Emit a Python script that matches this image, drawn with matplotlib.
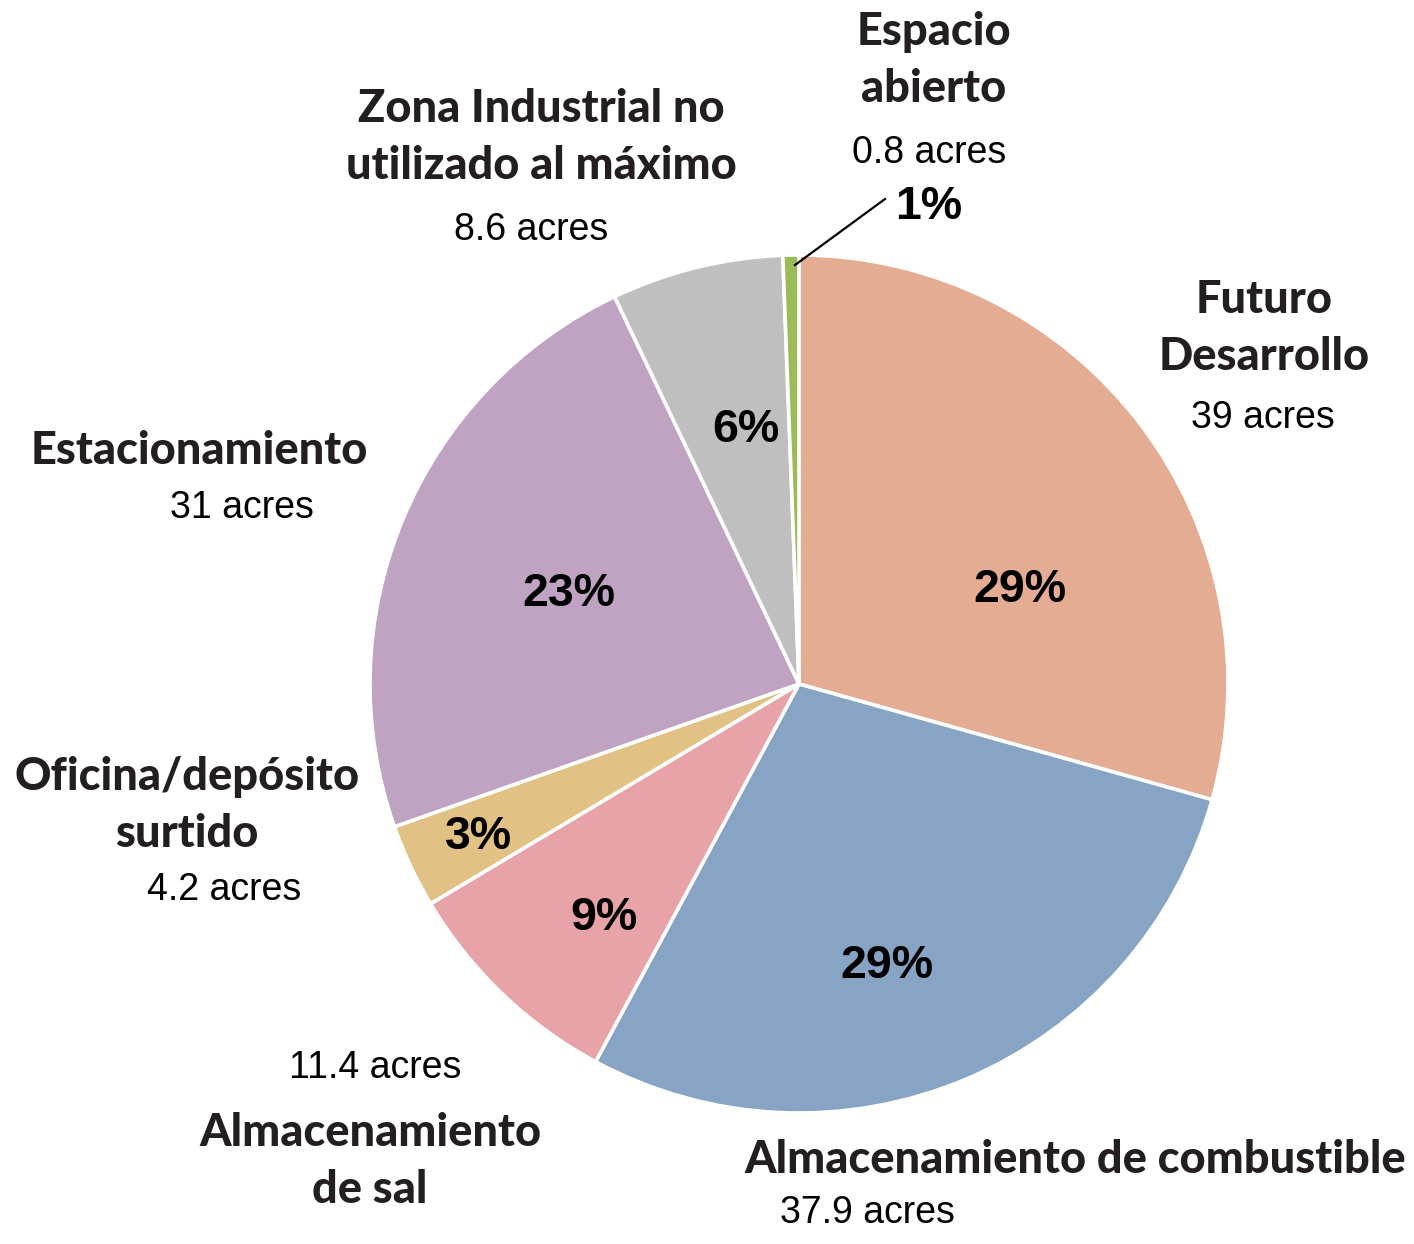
import matplotlib.pyplot as plt

W, H = 1414, 1244

# slices, clockwise from 12 o'clock
names = ["Futuro\nDesarrollo", "Almacenamiento de combustible", "Almacenamiento\nde sal",
         "Oficina/depósito\nsurtido", "Estacionamiento",
         "Zona Industrial no\nutilizado al máximo", "Espacio\nabierto"]
acres = [39, 37.9, 11.4, 4.2, 31, 8.6, 0.8]
acre_labels = ["39 acres", "37.9 acres", "11.4 acres", "4.2 acres", "31 acres", "8.6 acres", "0.8 acres"]
pct_labels = ["29%", "29%", "9%", "3%", "23%", "6%", "1%"]
colors = ["#E4AC93", "#87A4C4", "#E8A3A8", "#E1C184", "#C0A2C2", "#BFBFBF", "#9BBB59"]

# label positions in pixels (x centre, baseline y)
name_pos = [(1264, 313), (1075, 1173), (370, 1146), (187, 790), (199, 464), (541, 122), (934, 45)]
acre_pos = [(1263, 428), (867, 1223), (375, 1078), (224, 900), (242, 518), (531, 240), (929, 163)]
pct_pos = [(1020, 602), (887, 978), (604, 930), (479, 849), (569, 606), (746, 442), (929, 219)]

fig = plt.figure(figsize=(W / 100, H / 100), dpi=100)
ax = fig.add_axes([0, 0, 1, 1])

cx, cy, r = 799, H - 684, 429
ax.pie(acres, colors=colors, startangle=90, counterclock=False, center=(cx, cy), radius=r,
       wedgeprops=dict(edgecolor="white", linewidth=2.6), frame=True)
ax.set_xlim(0, W)
ax.set_ylim(0, H)
ax.axis("off")

name_font = dict(family=["Lato", "DejaVu Sans"], weight="black", fontsize=32.5, color="#231F20")
line_gap = 57
for name, (x, y) in zip(names, name_pos):
    for i, line in enumerate(name.split("\n")):
        ax.text(x, H - (y + i * line_gap), line, ha="center", va="baseline", **name_font)

for lab, (x, y) in zip(acre_labels, acre_pos):
    ax.text(x, H - y, lab, ha="center", va="baseline", family="Liberation Sans",
            fontsize=27, color="black")

for lab, (x, y) in zip(pct_labels, pct_pos):
    ax.text(x, H - y, lab, ha="center", va="baseline", family="Liberation Sans",
            weight="bold", fontsize=33.5, color="black")

# leader line for the small slice
ax.plot([795, 885], [H - 265, H - 199], color="black", lw=1.6)

fig.savefig("out.png", dpi=100)
